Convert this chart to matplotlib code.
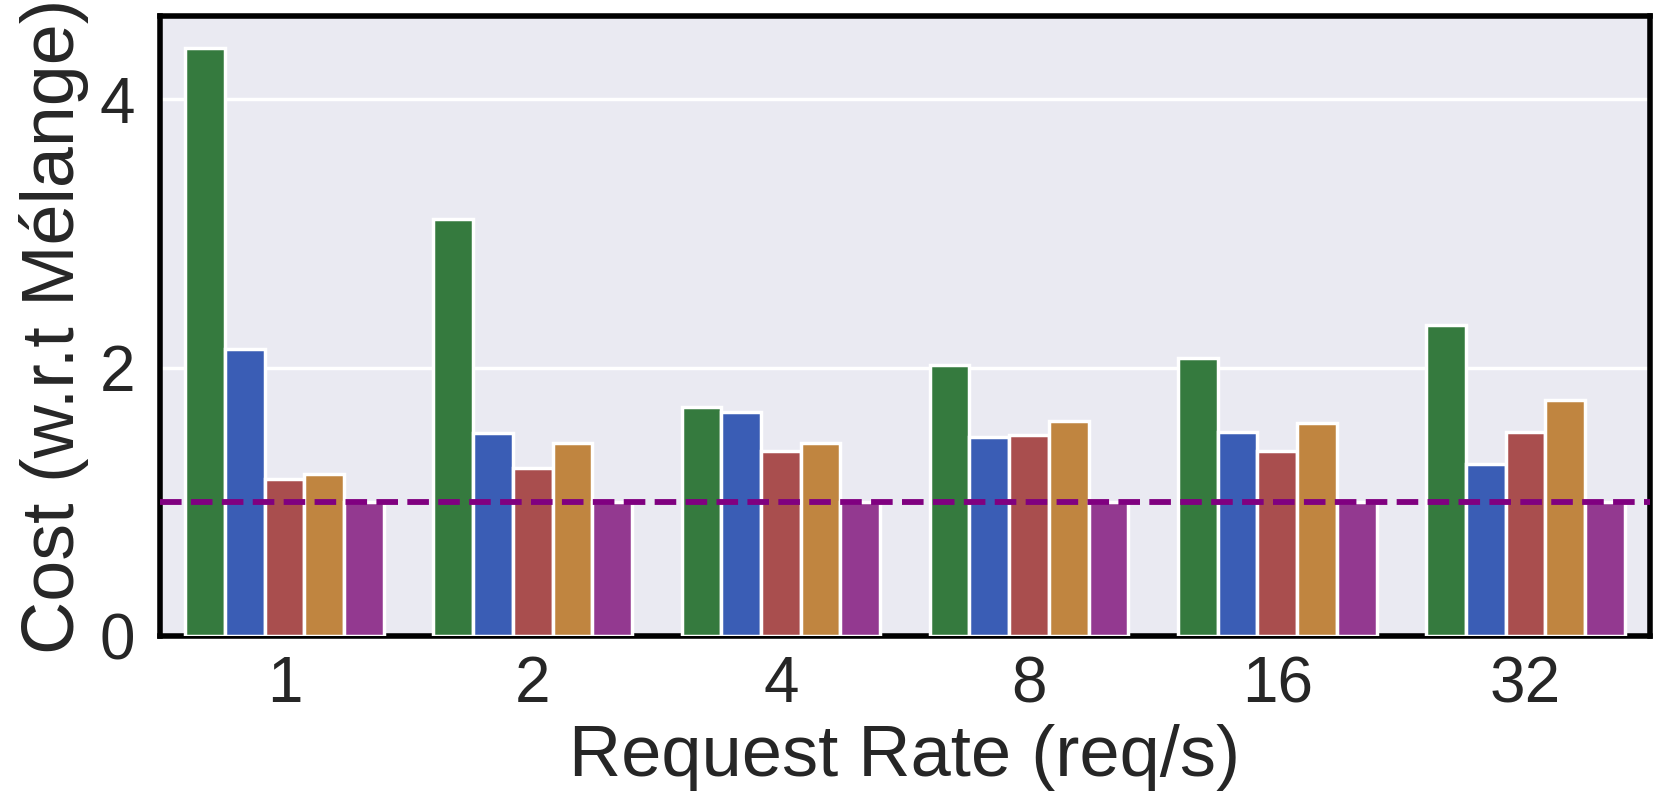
import matplotlib
matplotlib.use("Agg")
import matplotlib.pyplot as plt
import numpy as np

rates = ["1", "2", "4", "8", "16", "32"]
series_a = [4.38, 3.11, 1.71, 2.02, 2.07, 2.32]   # green
series_b = [2.14, 1.51, 1.67, 1.48, 1.52, 1.28]   # blue
series_c = [1.17, 1.25, 1.38, 1.50, 1.38, 1.52]   # red
series_d = [1.21, 1.44, 1.44, 1.60, 1.59, 1.76]   # orange
series_e = [1.0, 1.0, 1.0, 1.0, 1.0, 1.0]         # purple (Mélange)
baseline = 1.0

colors = ["#357a3e", "#3a5db5", "#a94e4e", "#c08540", "#933990"]

plt.rcParams['font.family'] = ['Liberation Sans', 'DejaVu Sans']

fig = plt.figure(figsize=(16.62, 8.05), dpi=100)
ax = fig.add_axes([0.0965, 0.21, 0.896, 0.77])
ax.set_facecolor("#eaeaf2")

allseries = [series_a, series_b, series_c, series_d, series_e]
n = len(allseries)
w = 0.8 / n
x = np.arange(len(rates))
for i, s in enumerate(allseries):
    ax.bar(x - 0.4 + w * (i + 0.5), s, width=w, color=colors[i],
           edgecolor="white", linewidth=2.5, zorder=3)

ax.axhline(baseline, color="#800080", linestyle="--", linewidth=4.2, zorder=4)

ax.set_xlim(-0.5, 5.5)
ax.set_ylim(0, 4.62)
ax.set_yticks([0, 2, 4])
ax.set_xticks(x)
ax.set_xticklabels(rates)
ax.yaxis.grid(True, color="white", linewidth=2.5, zorder=0)
ax.xaxis.grid(False)
ax.set_axisbelow(True)
for sp in ax.spines.values():
    sp.set_color("black")
    sp.set_linewidth(4)
ax.tick_params(axis="both", length=0, labelsize=46, colors="#262626", pad=14)
ax.tick_params(axis="y", pad=18)
ax.set_xlabel("Request Rate (req/s)", fontsize=52, color="#262626", labelpad=6)
ax.set_ylabel("Cost (w.r.t Mélange)", fontsize=53, color="#262626", labelpad=8)

fig.savefig("out.png", dpi=100)
